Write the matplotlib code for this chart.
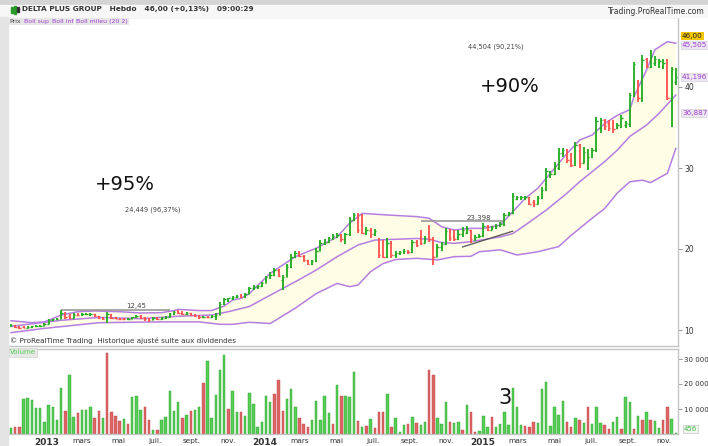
import numpy as np
import pandas as pd
import matplotlib
matplotlib.use("Agg")
import matplotlib.pyplot as plt
import matplotlib.dates as mdates
from matplotlib.patches import Rectangle

# ---------------- data ----------------
start_date = "2012-11-02"
n_bars = 160

opens = [10.5,10.6,10.35,10.35,10.3,10.4,10.45,10.5,10.55,10.8,
         11.2,11.3,11.4,12.1,11.7,11.5,11.9,11.8,11.95,11.85,
         11.95,11.7,11.5,11.3,12.0,11.5,11.4,11.35,11.3,11.4,
         11.55,11.75,11.5,11.35,11.25,11.45,11.35,11.5,11.65,11.95,
         12.2,12.05,11.95,12.1,11.85,11.7,11.55,11.65,11.55,11.7,
         11.9,13.2,13.7,13.9,14.1,14.3,14.1,14.45,15.2,15.3,
         15.4,15.8,16.5,16.8,17.4,16.2,16.5,17.8,19.0,19.5,
         19.1,18.6,18.2,18.5,19.8,20.8,20.9,21.3,21.6,21.7,
         21.2,21.8,23.6,24.2,22.3,22.0,22.4,21.8,21.0,20.8,
         19.0,20.8,19.2,19.5,19.6,19.8,19.6,20.9,21.4,20.8,
         21.5,21.2,19.0,20.3,20.6,22.2,21.6,21.2,21.8,22.0,
         22.3,21.2,21.5,21.6,22.8,22.4,22.7,22.9,23.0,24.2,
         24.4,26.2,26.2,26.3,26.4,25.8,25.6,26.3,27.3,29.0,
         29.3,30.0,31.8,32.2,31.0,30.4,32.8,30.6,30.5,31.4,
         32.2,35.0,35.9,35.6,35.5,34.9,35.1,35.3,35.4,38.9,
         40.8,38.6,43.5,42.5,43.0,42.6,42.5,43.3,38.7,40.6]
highs = [10.75,10.65,10.45,10.45,10.5,10.55,10.6,10.65,10.85,11.3,
         11.4,11.5,12.45,12.2,12.0,12.1,12.1,12.1,12.15,12.1,
         12.0,11.75,11.55,12.25,12.0,11.6,11.5,11.45,11.5,11.65,
         11.85,11.8,11.55,11.5,11.6,11.55,11.6,11.75,12.05,12.3,
         12.45,12.3,12.25,12.15,11.95,11.8,11.75,11.75,11.8,12.1,
         13.5,14.0,14.0,14.2,14.35,14.4,14.6,15.35,15.5,15.6,
         15.95,16.7,17.1,17.6,17.5,16.8,18.1,19.4,19.8,19.7,
         19.2,18.7,18.7,20.1,21.1,21.2,21.5,21.8,22.0,21.9,
         22.0,24.0,24.45,24.5,24.3,22.7,22.6,22.5,21.3,21.1,
         21.3,21.0,19.7,19.8,20.0,19.9,21.1,21.1,22.3,21.6,
         23.0,21.5,20.6,20.9,22.6,22.5,22.3,22.4,22.7,22.8,
         22.4,21.7,21.8,23.2,23.0,22.9,23.1,23.3,24.4,24.6,
         26.9,26.6,26.6,26.5,26.4,26.0,26.6,27.7,30.0,29.6,
         30.7,32.5,32.5,32.3,31.8,33.2,33.0,32.6,32.4,32.5,
         36.3,36.2,36.0,35.9,35.9,35.5,36.6,35.8,39.3,43.1,
         40.9,44.0,43.6,44.6,43.8,43.5,43.4,43.4,42.5,42.3]
lows = [10.45,10.25,10.15,10.2,10.25,10.3,10.35,10.4,10.5,10.8,
        11.1,11.2,11.3,11.4,11.3,11.45,11.7,11.7,11.85,11.75,
        11.6,11.4,11.2,10.9,11.4,11.3,11.25,11.2,11.2,11.3,
        11.5,11.4,11.1,11.0,11.2,11.2,11.25,11.4,11.6,11.9,
        11.95,11.85,11.85,11.75,11.6,11.4,11.45,11.45,11.45,11.2,
        11.9,13.1,13.5,13.7,13.95,13.95,14.0,14.4,15.0,15.1,
        15.3,15.75,16.3,16.7,16.5,15.0,16.5,17.7,18.9,19.0,
        18.4,18.0,18.0,18.4,19.7,20.5,20.7,21.1,21.4,20.9,
        20.6,21.6,23.4,22.0,21.8,21.7,21.4,21.6,18.9,18.9,
        18.9,18.9,18.9,19.2,19.4,19.4,19.5,20.2,20.5,20.7,
        20.9,18.0,19.0,19.8,20.5,21.0,21.0,21.1,21.5,21.8,
        20.8,21.0,21.3,21.5,22.2,22.3,22.5,22.7,22.8,24.1,
        24.3,26.0,26.0,26.1,25.4,25.2,25.6,26.2,27.2,28.8,
        29.1,29.8,31.3,30.6,30.1,30.2,30.0,30.6,29.8,31.2,
        32.0,34.3,34.7,34.6,34.3,34.8,35.0,35.0,35.1,38.8,
        38.1,38.1,42.3,42.4,42.6,42.3,42.2,38.4,35.1,40.2]
closes = [10.65,10.35,10.25,10.28,10.4,10.45,10.5,10.55,10.75,11.2,
          11.3,11.4,12.1,11.6,11.5,11.9,11.8,11.95,12.0,11.95,
          11.7,11.5,11.3,12.0,11.5,11.4,11.35,11.3,11.4,11.55,
          11.75,11.5,11.3,11.25,11.45,11.35,11.5,11.65,11.95,12.2,
          12.05,11.95,12.1,11.85,11.7,11.55,11.65,11.55,11.7,11.9,
          13.2,13.8,13.9,14.1,14.2,14.05,14.45,15.2,15.3,15.4,
          15.8,16.5,16.8,17.4,16.7,16.5,17.8,19.0,19.5,19.1,
          18.6,18.2,18.5,19.8,20.8,20.9,21.3,21.6,21.7,21.2,
          21.8,23.6,24.2,22.3,22.0,22.4,21.8,22.2,19.2,19.0,
          20.8,19.2,19.5,19.6,19.8,19.6,20.9,20.5,20.8,21.4,
          21.2,19.0,20.3,20.6,22.2,21.4,21.2,21.8,22.3,22.5,
          21.2,21.5,21.6,22.8,22.4,22.7,22.9,23.1,24.2,24.4,
          26.5,26.4,26.4,26.4,25.6,25.5,26.3,27.3,29.6,29.3,
          30.2,31.8,32.2,31.0,30.4,32.8,30.6,32.0,31.4,32.2,
          35.8,35.9,35.2,34.9,34.8,35.3,36.2,35.5,39.0,42.8,
          38.6,43.3,42.5,43.8,43.4,43.2,43.0,38.7,42.2,41.2]

volumes = [2400,3000,2900,14000,14400,13600,10300,10400,4900,11700,
           10700,5600,18400,9300,23700,6900,8300,9600,9600,10900,
           6300,9300,6300,32600,8900,7300,5200,5900,4000,14900,
           15300,9700,10700,5600,1600,1700,5600,6700,17300,9100,
           12700,6500,7700,9200,9500,10700,20300,29100,6500,15600,
           25600,31700,9900,17300,8900,9000,7300,16500,12000,2700,
           4900,15300,12700,16100,21700,9100,14000,18000,10700,6500,
           4000,2900,5600,13300,5600,15200,8300,4000,19600,15200,
           15200,14900,24700,5200,2700,3300,5900,2400,8900,9000,
           16100,2900,6300,900,3700,4000,6700,4400,3700,4700,
           25600,23600,6500,4000,12700,4900,4500,4900,1600,11700,
           8900,900,1200,7100,3000,6900,2900,4000,8900,3700,
           18400,10700,3700,3300,3000,4700,4300,18000,20700,3300,
           10700,7700,13200,4700,2700,6300,5600,4400,10700,4000,
           10700,4300,3700,2200,4700,6900,2000,14700,12700,2200,
           7200,5600,9000,5600,5200,2400,5600,10900,5900,456]
volume_dir = "".join([
    "grrggggggg", "gggrggrggg", "rrgrrrrgrg", "ggrrgrgggg",
    "grgrggrggg", "ggrggrgggg", "gggrrrgggr", "rrgggggrgr",
    "gggrgrgrrr", "grgggrgrgg", "rrgggrggrg", "rrgggrgggg",
    "gggrrrgggg", "gggrrgrgrg", "ggrrggrggr", "grgrggrrgg"])

upper_idx = [0,5,8,12,16,20,26,31,36,39,40,45,48,51,53,55,57,62,68,73,
             78,81,84,90,97,100,103,106,110,113,117,120,123,126,129,133,136,139,142,145,
             148,149,152,154,157,159]
upper_val = [11.15,10.9,11.0,11.85,12.26,12.35,12.26,12.1,12.14,12.4,12.55,12.4,12.4,12.96,13.7,13.9,14.5,17.0,19.05,20.1,
             21.5,23.2,24.4,24.2,24.0,23.8,22.75,22.35,22.55,22.55,22.96,24.6,26.26,27.5,29.35,31.8,33.45,34.07,35.5,36.5,
             37.2,38.8,42.1,44.6,45.6,45.4]
mid_idx = [0,12,21,31,40,48,52,57,62,68,73,78,83,87,92,97,100,103,106,110,
           117,120,123,128,133,136,139,142,145,148,152,155,159]
mid_val = [10.45,11.2,11.55,11.4,11.7,11.85,12.26,12.9,14.3,15.96,17.4,19.05,20.5,21.1,21.2,21.3,21.2,20.8,20.7,20.9,
           21.5,21.9,22.96,24.8,26.9,28.3,29.55,30.8,32.2,33.9,35.3,36.75,39.0]
lower_idx = [0,8,21,36,45,50,53,57,62,66,68,73,78,81,83,86,89,92,97,102,
             106,110,112,117,121,126,131,134,139,142,145,148,151,153,157,159]
lower_val = [9.67,10.2,10.9,11.0,11.0,10.7,10.7,10.95,10.8,12.06,12.7,14.5,15.75,15.35,15.55,17.2,18.2,18.7,18.85,18.65,
             19.05,19.1,19.66,19.9,19.26,19.66,20.3,21.7,23.8,25.0,26.9,28.3,28.5,28.2,29.35,32.4]

# drawn objects (resistances / trend line)
res1_level, res1_from, res1_to = 12.45, 12, 38
res2_level, res2_from, res2_to = 23.398, 98, 118
trend_idx = [108, 120]
trend_val = [20.25, 22.2]

month_ticks = ["2013-01-01","2013-03-01","2013-05-01","2013-07-01","2013-09-01","2013-11-01",
               "2014-01-01","2014-03-01","2014-05-01","2014-07-01","2014-09-01","2014-11-01",
               "2015-01-01","2015-03-01","2015-05-01","2015-07-01","2015-09-01","2015-11-01"]
month_labels = ["2013","mars","mai","juil.","sept.","nov.",
                "2014","mars","mai","juil.","sept.","nov.",
                "2015","mars","mai","juil.","sept.","nov."]
price_ticks = [10, 20, 30, 40]
vol_ticks = [10000, 20000, 30000]
vol_tick_labels = ["10 000", "20 000", "30 000"]
legend_labels = ["Prix", "Boll sup", "Boll inf", "Boll mileu (20 2)"]

# ---------------- figure ----------------
W, H = 708, 446
fig = plt.figure(figsize=(W/100, H/100), dpi=100)
fig.patch.set_facecolor("white")

def fx(x): return x / W
def fy(y): return 1 - y / H
def ptext(x, y, s, **kw):
    return fig.text(fx(x), fy(y), s, **kw)

# background strips
fig.patches.append(Rectangle((0, fy(5)), 1, 5/H, transform=fig.transFigure, color="#d4d4d4", zorder=0))
fig.patches.append(Rectangle((0, fy(17)), 1, 12/H, transform=fig.transFigure, color="#f7f7f7", zorder=0))
fig.patches.append(Rectangle((0, 0), fx(8), fy(17), transform=fig.transFigure, color="#e4e4e4", zorder=0))

dates = pd.date_range(start_date, periods=n_bars, freq="7D")
xd = mdates.date2num(dates)
px_per_day = 0.5973
x0 = xd[0] - 3 / px_per_day
x1 = x0 + 670 / px_per_day

ax = fig.add_axes([fx(8), fy(346), 670/W, (346-17)/H])
axv = fig.add_axes([fx(8), fy(434), 670/W, (434-349)/H])

# price axis
y_top = 10 + (330-17)/8.1
y_bot = 10 - (346-330)/8.1
ax.set_xlim(x0, x1)
ax.set_ylim(y_bot, y_top)

band_col = "#b57ee0"
ux = xd[upper_idx]; lx = xd[lower_idx]
poly_x = np.concatenate([ux, lx[::-1]])
poly_y = np.concatenate([upper_val, lower_val[::-1]])
ax.fill(poly_x, poly_y, color="#fffde6", zorder=1, lw=0)
ax.plot(ux, upper_val, color=band_col, lw=1.1, zorder=2)
ax.plot(xd[mid_idx], mid_val, color=band_col, lw=1.1, zorder=2)
ax.plot(lx, lower_val, color=band_col, lw=1.1, zorder=2)

o = np.array(opens); h = np.array(highs); l = np.array(lows); c = np.array(closes)
cols = np.where(c >= o, "#1faa1f", "#ff4f4f")
tick = 2.4
ax.vlines(xd, l, h, colors=cols, lw=1.3, zorder=3)
ax.hlines(o, xd - tick, xd, colors=cols, lw=1.0, zorder=3)
ax.hlines(c, xd, xd + tick, colors=cols, lw=1.0, zorder=3)

# resistance lines and trend line
ax.hlines(res1_level, xd[res1_from], xd[res1_to], colors="#999999", lw=1.2, zorder=2.5)
ax.hlines(res2_level, xd[res2_from], xd[res2_to], colors="#999999", lw=1.2, zorder=2.5)
ax.plot(xd[trend_idx], trend_val, color="#555555", lw=0.9, zorder=2.5)

ax.yaxis.tick_right()
ax.set_yticks(price_ticks)
ax.set_yticklabels([str(t) for t in price_ticks])
ax.tick_params(axis="y", length=3, width=0.6, color="#888888", labelsize=5.5, labelcolor="#333333", pad=1.5)
ax.tick_params(axis="x", bottom=False, labelbottom=False)
ax.spines["left"].set_visible(False)
for s in ["top", "bottom", "right"]:
    ax.spines[s].set_color("#c4c4c4")
    ax.spines[s].set_linewidth(1.0)

# volume axis
axv.set_xlim(x0, x1)
axv.set_ylim(0, 34000)
vcols = ["#55cf55" if ch == "g" else "#e06666" for ch in volume_dir]
vedge = ["#2c9c2c" if ch == "g" else "#b84444" for ch in volume_dir]
axv.bar(xd, volumes, width=4.1, color=vcols, edgecolor=vedge, linewidth=0.3, zorder=2)
axv.yaxis.tick_right()
axv.set_yticks(vol_ticks)
axv.set_yticklabels(vol_tick_labels)
axv.tick_params(axis="y", length=3, width=0.6, color="#888888", labelsize=5, labelcolor="#333333", pad=1.5)
tick_pos = mdates.date2num(pd.to_datetime(month_ticks))
axv.set_xticks(tick_pos)
axv.set_xticklabels(month_labels)
axv.tick_params(axis="x", length=0, labelsize=5.3, labelcolor="#333333", pad=3)
for lab in axv.get_xticklabels():
    if lab.get_text().isdigit():
        lab.set_fontweight("bold")
        lab.set_fontsize(6.5)
axv.spines["left"].set_visible(False)
for s in ["top", "bottom", "right"]:
    axv.spines[s].set_color("#c4c4c4")
    axv.spines[s].set_linewidth(1.0)

# ---------------- texts ----------------
# header icon
fig.patches.append(Rectangle((fx(11), fy(13)), 2/W, 6/H, transform=fig.transFigure, color="#2a9a2a"))
fig.patches.append(Rectangle((fx(14), fy(14)), 2/W, 8/H, transform=fig.transFigure, color="#2a9a2a"))
fig.patches.append(Rectangle((fx(17), fy(12)), 2/W, 5/H, transform=fig.transFigure, color="#333333"))
ptext(22, 9.5, "DELTA PLUS GROUP   Hebdo   46,00 (+0,13%)   09:00:29", fontsize=5.3,
      fontweight="bold", color="#333333", va="center", ha="left")
ptext(705, 11.5, "Trading.ProRealTime.com", fontsize=5.5, color="#333333", va="center", ha="right")

# legend row (placed one after another)
fig.canvas.draw()
renderer = fig.canvas.get_renderer()
xpos = 9
for k, txt in enumerate(legend_labels):
    col = "#444444" if k == 0 else "#a040d0"
    t = ptext(xpos, 21.5, txt, fontsize=4.5, color=col, va="center", ha="left",
              bbox=dict(boxstyle="square,pad=0.2", fc="#e6e6e6", ec="none"))
    bb = t.get_window_extent(renderer=renderer)
    xpos += bb.width + 3

ptext(95, 185, "+95%", fontsize=14, color="#111111", va="center", ha="left")
ptext(480, 87, "+90%", fontsize=14, color="#111111", va="center", ha="left")
ptext(125, 210, "24,449 (96,37%)", fontsize=4.8, color="#444444", va="center", ha="left")
ptext(468, 47, "44,504 (90,21%)", fontsize=4.8, color="#444444", va="center", ha="left")
ptext(126, 306, "12,45", fontsize=5, color="#444444", va="center", ha="left")
ptext(467, 218, "23,398", fontsize=5, color="#444444", va="center", ha="left")
ptext(10, 341, "\u00a9 ProRealTime Trading  Historique ajusté suite aux dividendes", fontsize=5.2,
      color="#333333", va="center", ha="left")

# right side price boxes
ptext(682, 36, "46,00", fontsize=5.2, color="#222222", va="center", ha="left",
      bbox=dict(boxstyle="square,pad=0.15", fc="#f2c500", ec="none"))
ptext(682, 45, "45,505", fontsize=5.2, color="#a040d0", va="center", ha="left",
      bbox=dict(boxstyle="square,pad=0.15", fc="#ece6f2", ec="#cccccc", lw=0.4))
ptext(682, 77, "41,196", fontsize=5.2, color="#a040d0", va="center", ha="left",
      bbox=dict(boxstyle="square,pad=0.15", fc="#ece6f2", ec="#cccccc", lw=0.4))
ptext(682, 113, "36,887", fontsize=5.2, color="#a040d0", va="center", ha="left",
      bbox=dict(boxstyle="square,pad=0.15", fc="#ece6f2", ec="#cccccc", lw=0.4))

# volume panel labels
ptext(10, 352.5, "Volume", fontsize=5, color="#55cc55", va="center", ha="left",
      bbox=dict(boxstyle="square,pad=0.2", fc="#e8e8e8", ec="#cccccc", lw=0.4))
ptext(684, 429, "456", fontsize=5, color="#44bb44", va="center", ha="left",
      bbox=dict(boxstyle="square,pad=0.15", fc="#eef6ee", ec="#bbbbbb", lw=0.4))
ptext(505, 398, "3", fontsize=15, color="#111111", va="center", ha="center")

fig.savefig("out.png", dpi=100)
